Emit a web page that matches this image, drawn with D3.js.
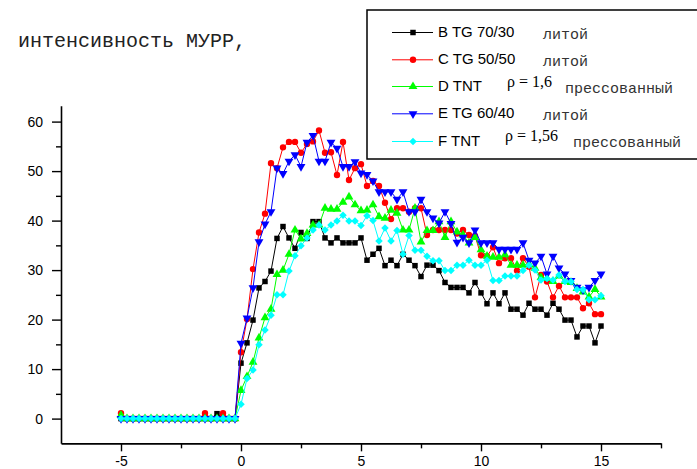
<!DOCTYPE html>
<html>
<head>
<meta charset="utf-8">
<script src="https://cdn.jsdelivr.net/npm/d3@7"></script>
<style>
  html, body { margin: 0; padding: 0; background: #fff; }
  svg { display: block; }
</style>
</head>
<body>
<svg id="chart" width="697" height="469"></svg>
<script>
// sampling grid: time, step 0.25 from -5 to 15
const times = d3.range(81).map(i => -5 + i * 0.25);

const labelB = "B TG 70/30";
const labelC = "C TG 50/50";
const labelD = "D TNT";
const labelE = "E TG 60/40";
const labelF = "F TNT";

const valuesB = [0,0,0,0,0, 0,0,0,0,0, 0,0,0,0,0, 0,1.0,0,0,0,
  11.2,15.3,19.9,26.4,27.7,29.8,36.4,38.8,36.5,34.4,
  37.6,36.4,39.8,39.8,36.5,35.5,36.5,35.5,35.5,35.5,
  36.5,32.0,33.2,34.4,30.9,32.0,30.9,33.2,32.0,30.9,
  28.7,31.0,31.0,29.9,27.5,26.5,26.5,26.5,25.4,27.5,
  25.4,23.2,25.4,23.2,25.4,22.1,22.1,20.9,23.3,22.1,
  22.1,20.9,23.3,22.1,19.9,19.9,16.5,18.7,18.7,15.3,18.7];

const valuesC = [1.1,0,0,0,0, 0,0,0,0,0, 0,0,0,0,1.1, 0,0,1.1,0,0,
  13.4,20.1,30.2,37.6,41.4,51.6,50.6,54.8,55.9,55.9,
  53.7,55.5,56.0,58.2,53.7,53.8,49.2,55.9,48.2,50.6,
  51.4,47.0,48.0,47.0,43.6,40.3,42.5,42.5,41.8,42.5,
  42.5,37.1,38.1,38.1,38.1,38.1,37.4,38.1,37.1,36.9,
  33.0,32.8,34.6,31.4,32.4,32.4,29.9,32.4,30.7,24.5,
  29.0,27.7,24.5,26.8,24.5,24.5,24.5,22.3,23.3,21.1,21.1];

const valuesD = [0.7,0,0,0,0, 0,0,0,0,0, 0,0,0,0,0, 0,0,0,0,0,
  5.7,8.5,11.4,16.3,20.4,22.1,29.1,30.0,33.2,38.1,
  36.3,37.4,39.1,39.1,42.5,42.3,42.3,43.7,44.8,43.2,
  42.0,42.1,43.2,40.8,40.5,42.1,41.5,38.1,38.1,42.5,
  35.7,38.0,38.0,39.8,36.6,39.8,37.7,37.1,35.5,36.6,
  34.1,32.8,32.6,32.6,33.1,31.0,31.0,31.0,31.2,30.4,
  28.5,28.3,27.7,28.8,27.7,27.5,26.3,25.6,24.6,26.1,24.6];

const valuesE = [0,0,0,0,0, 0,0,0,0,0, 0,0,0,0,0, 0,0,0,0,0,
  15.2,20.3,26.4,35.7,39.3,41.8,50.6,49.5,52.0,53.3,
  50.9,55.8,57.2,52.0,52.0,55.8,54.6,50.9,50.9,51.9,
  49.6,49.3,48.0,45.8,45.8,45.8,44.3,45.8,41.8,41.8,
  44.3,41.8,40.5,39.5,41.8,39.4,35.6,36.6,35.5,38.1,
  35.5,35.5,35.5,34.2,34.2,34.2,34.2,35.5,32.0,31.4,
  32.8,29.2,32.8,30.4,29.2,27.9,26.5,26.0,26.5,27.9,29.2];

const valuesF = [0,0,0,0,0, 0,0,0,0,0, 0,0,0,0,0, 0,0,0,0,0,
  2.9,8.1,9.8,14.9,17.9,20.9,25.0,25.0,29.8,32.9,
  34.9,36.5,38.1,39.1,38.1,39.1,39.9,41.1,39.9,39.9,
  39.0,41.0,40.0,35.9,38.5,35.9,38.0,33.2,37.0,34.0,
  34.0,32.8,31.9,31.9,29.9,29.9,31.0,31.0,32.0,31.0,
  31.0,32.0,27.9,27.9,28.8,28.8,28.8,29.9,31.0,30.0,
  28.0,28.3,28.0,29.0,27.7,27.7,26.1,26.1,24.0,24.0,24.8];

const xTicksMajor = [-5, 0, 5, 10, 15];
const xTicksMinor = [-2.5, 2.5, 7.5, 12.5, 17.5];
const yTicksMajor = [0, 10, 20, 30, 40, 50, 60];
const yTicksMinor = [5, 15, 25, 35, 45, 55];

const titleText = "интенсивность МУРР,";
const castText = "литой";
const pressedText = "прессованный";
const rho16 = "ρ = 1,6";
const rho156 = "ρ = 1,56";

// marker shapes
const diamond = {
  draw(ctx, size) {
    const r = Math.sqrt(size / 2);
    ctx.moveTo(0, -r); ctx.lineTo(r, 0); ctx.lineTo(0, r); ctx.lineTo(-r, 0); ctx.closePath();
  }
};
const triDown = {
  draw(ctx, size) {
    const a = Math.sqrt(size * 4 / Math.sqrt(3));
    const hh = a * Math.sqrt(3) / 2;
    ctx.moveTo(-a / 2, -hh / 3); ctx.lineTo(a / 2, -hh / 3); ctx.lineTo(0, 2 * hh / 3); ctx.closePath();
  }
};
const triUp = {
  draw(ctx, size) {
    const a = Math.sqrt(size * 4 / Math.sqrt(3));
    const hh = a * Math.sqrt(3) / 2;
    ctx.moveTo(-a / 2, hh / 3); ctx.lineTo(a / 2, hh / 3); ctx.lineTo(0, -2 * hh / 3); ctx.closePath();
  }
};

const series = [
  { label: labelB, values: valuesB, color: "#000000", shape: d3.symbolSquare, size: 30, note: castText, rho: null },
  { label: labelC, values: valuesC, color: "#ff0000", shape: d3.symbolCircle, size: 32, note: castText, rho: null },
  { label: labelD, values: valuesD, color: "#00ff00", shape: triUp, size: 34, note: pressedText, rho: rho16 },
  { label: labelE, values: valuesE, color: "#0000ff", shape: triDown, size: 34, note: castText, rho: null },
  { label: labelF, values: valuesF, color: "#00ffff", shape: diamond, size: 28, note: pressedText, rho: rho156 }
];

const svg = d3.select("#chart");

const x = d3.scaleLinear().domain([-7.5, 17.5]).range([61, 661]);
const y = d3.scaleLinear().domain([-5, 63.2]).range([443.35, 105.76]);

// axes
const axisFont = "Liberation Sans, Arial, sans-serif";
const monoFont = "Liberation Mono, Courier New, monospace";
const plainNum = d => String(d);
function styleAxis(g) {
  g.select(".domain").attr("stroke", "#000").attr("stroke-width", 1.6);
  g.selectAll(".tick line").attr("stroke", "#000").attr("stroke-width", 1.4);
  g.selectAll("text").attr("font-family", axisFont).attr("font-size", 14).attr("fill", "#000");
}

const xAxisG = svg.append("g").attr("transform", `translate(0,${y(-5)})`);
xAxisG.append("g").call(d3.axisBottom(x).tickValues(xTicksMinor).tickSize(5).tickSizeOuter(0).tickFormat(""))
  .call(g => { g.select(".domain").remove(); g.selectAll(".tick line").attr("stroke", "#000").attr("stroke-width", 1.4); });
xAxisG.append("g").call(d3.axisBottom(x).tickValues(xTicksMajor).tickSize(8).tickPadding(5).tickSizeOuter(0).tickFormat(plainNum))
  .call(styleAxis);

const yAxisG = svg.append("g").attr("transform", `translate(${x(-7.5)},0)`);
yAxisG.append("g").call(d3.axisLeft(y).tickValues(yTicksMinor).tickSize(5).tickSizeOuter(0).tickFormat(""))
  .call(g => { g.select(".domain").remove(); g.selectAll(".tick line").attr("stroke", "#000").attr("stroke-width", 1.4); });
yAxisG.append("g").call(d3.axisLeft(y).tickValues(yTicksMajor).tickSize(9).tickPadding(9).tickSizeOuter(0).tickFormat(plainNum))
  .call(styleAxis);

// series lines and markers
const line = d3.line().x((d, i) => x(times[i])).y(d => y(d));
series.forEach(s => {
  const g = svg.append("g");
  g.append("path").datum(s.values)
    .attr("d", line).attr("fill", "none").attr("stroke", s.color).attr("stroke-width", 1);
  g.selectAll("path.mk").data(s.values).enter().append("path")
    .attr("class", "mk")
    .attr("d", d3.symbol().type(s.shape).size(s.size))
    .attr("transform", (d, i) => `translate(${x(times[i])},${y(d)})`)
    .attr("fill", s.color);
});

// title
svg.append("text").attr("x", 18).attr("y", 47)
  .attr("font-family", monoFont).attr("font-size", 20)
  .attr("fill", "#222").text(titleText);

// legend
const legend = svg.append("g");
legend.append("rect").attr("x", 367).attr("y", 10).attr("width", 340).attr("height", 149)
  .attr("fill", "#fff").attr("stroke", "#000").attr("stroke-width", 1.5);

const rowBase = [37, 64.3, 91, 118.3, 146];
series.forEach((s, i) => {
  const cy = rowBase[i] - 4.5;
  legend.append("line").attr("x1", 392).attr("x2", 433).attr("y1", cy).attr("y2", cy)
    .attr("stroke", s.color).attr("stroke-width", 1);
  legend.append("path").attr("d", d3.symbol().type(s.shape).size(s.size))
    .attr("transform", `translate(413,${cy})`).attr("fill", s.color);
  legend.append("text").attr("x", 438).attr("y", rowBase[i])
    .attr("font-family", axisFont).attr("font-size", 15).attr("fill", "#000").text(s.label);
  if (s.rho) {
    legend.append("text").attr("x", i === 2 ? 507 : 505).attr("y", i === 2 ? 86.5 : 141)
      .attr("font-family", "Liberation Serif, Times New Roman, serif").attr("font-size", 16)
      .attr("fill", "#000").text(s.rho);
    legend.append("text").attr("x", i === 2 ? 565 : 573).attr("y", i === 2 ? 93 : 147)
      .attr("font-family", monoFont).attr("font-size", 15)
      .attr("fill", "#333").text(s.note);
  } else {
    legend.append("text").attr("x", 543).attr("y", rowBase[i] + 2)
      .attr("font-family", monoFont).attr("font-size", 15)
      .attr("fill", "#333").text(s.note);
  }
});
</script>
</body>
</html>
